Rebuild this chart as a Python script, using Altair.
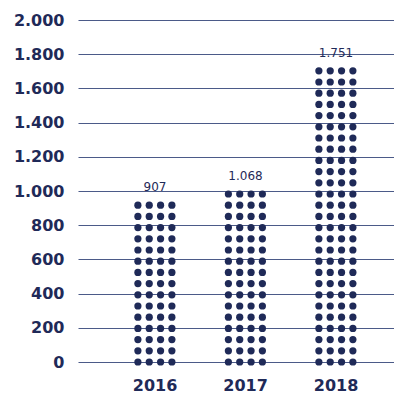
import altair as alt
import pandas as pd

years = ["2016", "2017", "2018"]
values = [907, 1068, 1751]
value_labels = ["907", "1.068", "1.751"]
dot_rows = [15, 16, 27]   # rows of dots per column
dot_cols = [0, 1, 2, 3]
row_step = 65.5           # value units between dot rows

NAVY = "#1f2a58"
GRID = "#4b5a88"
FONT = "DejaVu Sans"

dots = pd.DataFrame(
    [
        {"year": y, "col": c, "v": r * row_step}
        for y, n in zip(years, dot_rows)
        for r in range(n)
        for c in dot_cols
    ]
)
labels = pd.DataFrame(
    {
        "year": years,
        "value": values,
        "label": value_labels,
        "top": [(n - 1) * row_step for n in dot_rows],
    }
)

xscale = alt.Scale(domain=years, paddingInner=0.5, paddingOuter=0.496, align=0.606)
yscale = alt.Scale(domain=[0, 2000], nice=False)

yaxis = alt.Axis(
    values=list(range(0, 2001, 200)),
    labelExpr="replace(format(datum.value, ','), ',', '.')",
    title=None,
    domain=False,
    ticks=False,
    grid=True,
    gridColor=GRID,
    gridWidth=1.2,
    gridOpacity=1,
    labelFont=FONT,
    labelFontSize=16,
    labelFontWeight="bold",
    labelColor=NAVY,
    labelPadding=14,
)
xaxis = alt.Axis(
    title=None,
    domain=False,
    ticks=False,
    grid=False,
    labelAngle=0,
    labelFont=FONT,
    labelFontSize=16,
    labelFontWeight="bold",
    labelColor=NAVY,
    labelPadding=15,
)

dot_layer = (
    alt.Chart(dots)
    .mark_circle(size=52, color=NAVY, opacity=1)
    .encode(
        x=alt.X("year:N", scale=xscale, axis=xaxis),
        xOffset=alt.XOffset("col:Q", scale=alt.Scale(domain=[0, 3], range=[5.5, 39.5])),
        y=alt.Y("v:Q", scale=yscale, axis=yaxis),
    )
)

text_layer = (
    alt.Chart(labels)
    .mark_text(
        dy=-18,
        baseline="middle",
        font=FONT,
        fontSize=12,
        fontWeight=500,
        color=NAVY,
    )
    .encode(
        x=alt.X("year:N", scale=xscale, axis=xaxis),
        y=alt.Y("top:Q", scale=yscale, axis=yaxis),
        text="label:N",
    )
)

chart = (
    alt.layer(dot_layer, text_layer)
    .properties(
        width=316,
        height=342,
        padding={"left": 70, "top": 12, "right": 0, "bottom": 38},
        autosize="none",
        background="white",
    )
    .configure_view(stroke=None)
)

chart.save("out.html", embed_options={"renderer": "svg", "actions": False})
